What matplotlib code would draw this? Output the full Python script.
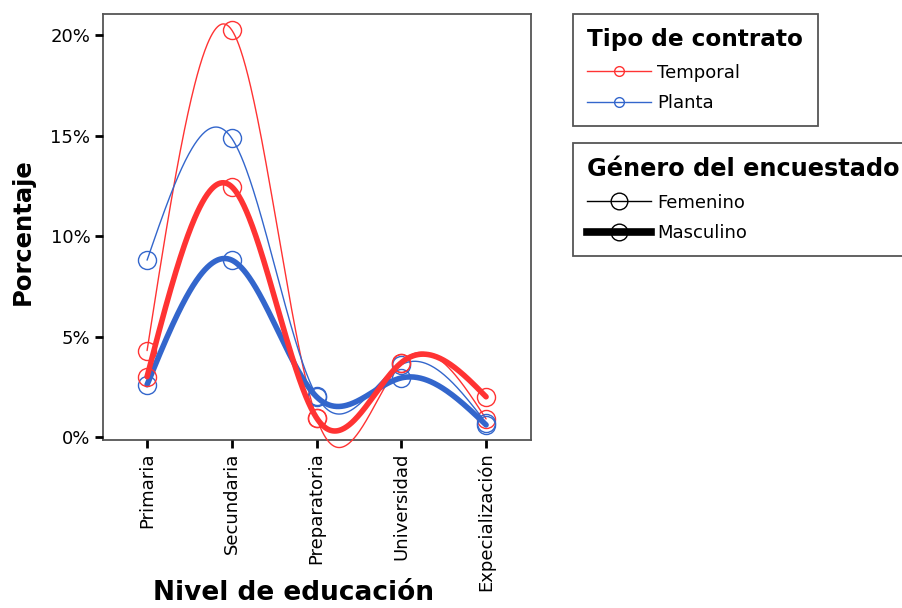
import numpy as np
import matplotlib
matplotlib.use("Agg")
import matplotlib.pyplot as plt
from matplotlib.lines import Line2D

niveles = ["Primaria", "Secundaria", "Preparatoria", "Universidad", "Expecialización"]

# porcentajes (Tipo de contrato x Genero)
temporal_fem = [4.3, 20.25, 0.95, 3.7, 0.9]
temporal_masc = [3.0, 12.45, 0.95, 3.7, 2.0]
planta_fem = [8.8, 14.86, 2.05, 3.6, 0.7]
planta_masc = [2.6, 8.8, 2.0, 2.94, 0.6]

yticks = [0, 5, 10, 15, 20]

RED = "#ff3333"
BLUE = "#3366cc"


def natural_spline(x, y, xs):
    """natural cubic spline through the points (like the spss interpolation)"""
    x = np.asarray(x, float)
    y = np.asarray(y, float)
    n = len(x)
    h = np.diff(x)
    A = np.zeros((n, n))
    b = np.zeros(n)
    A[0, 0] = 1
    A[-1, -1] = 1
    for i in range(1, n - 1):
        A[i, i - 1] = h[i - 1]
        A[i, i] = 2 * (h[i - 1] + h[i])
        A[i, i + 1] = h[i]
        b[i] = 6 * ((y[i + 1] - y[i]) / h[i] - (y[i] - y[i - 1]) / h[i - 1])
    M = np.linalg.solve(A, b)
    out = np.empty_like(xs)
    for k, xv in enumerate(xs):
        i = min(max(np.searchsorted(x, xv) - 1, 0), n - 2)
        t = (xv - x[i]) / h[i]
        lin = (1 - t) * y[i] + t * y[i + 1]
        cub = (((1 - t) ** 3 - (1 - t)) * M[i] + (t ** 3 - t) * M[i + 1]) * h[i] ** 2 / 6
        out[k] = lin + cub
    return out


fig = plt.figure(figsize=(9.03, 6.08), dpi=100)
ax = fig.add_axes([103 / 903, 1 - 440 / 608, 428 / 903, 426 / 608])

xpos = np.arange(len(niveles))
xs = np.linspace(0, len(niveles) - 1, 400)

series = [
    (temporal_fem, RED, 1.0),
    (planta_fem, BLUE, 1.0),
    (planta_masc, BLUE, 4.0),
    (temporal_masc, RED, 4.0),
]
for vals, col, lw in series:
    ax.plot(xs, natural_spline(xpos, vals, xs), color=col, lw=lw,
            solid_capstyle="round", clip_on=False)
    ax.plot(xpos, vals, ls="none", marker="o", ms=13, mfc="none", mec=col, mew=1.0,
            clip_on=False)

ax.set_xlim(-0.52, 4.53)
ax.set_ylim(-0.15, 21.05)
ax.set_xticks(xpos)
ax.set_xticklabels(niveles, rotation=90, fontsize=13, va="top", ha="center")
ax.set_yticks(yticks)
ax.set_yticklabels(["%d%%" % v for v in yticks], fontsize=13)
ax.tick_params(direction="out", length=6, width=2, color="black", pad=3)
for s in ax.spines.values():
    s.set_color("#555555")
    s.set_linewidth(1.3)
    s.set_zorder(0.5)

ax.set_xlabel("Nivel de educación", fontsize=19, fontweight="bold", va="center")
ax.xaxis.set_label_coords(0.444, (440 - 593) / 426)
ax.set_ylabel("Porcentaje", fontsize=17.5, fontweight="bold", va="center")
ax.yaxis.set_label_coords((23 - 103) / 428, 0.488)

# legends
h1 = [Line2D([], [], color=RED, lw=1.0, marker="o", ms=7, mfc="none", mec=RED),
      Line2D([], [], color=BLUE, lw=1.0, marker="o", ms=7, mfc="none", mec=BLUE)]
leg1 = fig.legend(h1, ["Temporal", "Planta"], title="Tipo de contrato",
                  loc="upper left", bbox_to_anchor=(573 / 903, 1 - 14 / 608),
                  fontsize=13, title_fontproperties={"weight": "bold", "size": 16.7},
                  alignment="left", fancybox=False, framealpha=1, edgecolor="#555555",
                  handlelength=3.5, handletextpad=0.35, labelspacing=0.68,
                  borderpad=0.8, borderaxespad=0)
leg1.get_frame().set_linewidth(1.3)

h2 = [Line2D([], [], color="black", lw=1.0, marker="o", ms=12, mfc="none", mec="black"),
      Line2D([], [], color="black", lw=5.5, marker="o", ms=12, mfc="none", mec="black")]
leg2 = fig.legend(h2, ["Femenino", "Masculino"], title="Género del encuestado",
                  loc="upper left", bbox_to_anchor=(573 / 903, 1 - 143 / 608),
                  fontsize=13, title_fontproperties={"weight": "bold", "size": 17.3},
                  alignment="left", fancybox=False, framealpha=1, edgecolor="#555555",
                  handlelength=3.5, handletextpad=0.35, labelspacing=0.68,
                  borderpad=0.8, borderaxespad=0)
leg2.get_frame().set_linewidth(1.3)

fig.savefig("out.png", dpi=100)
